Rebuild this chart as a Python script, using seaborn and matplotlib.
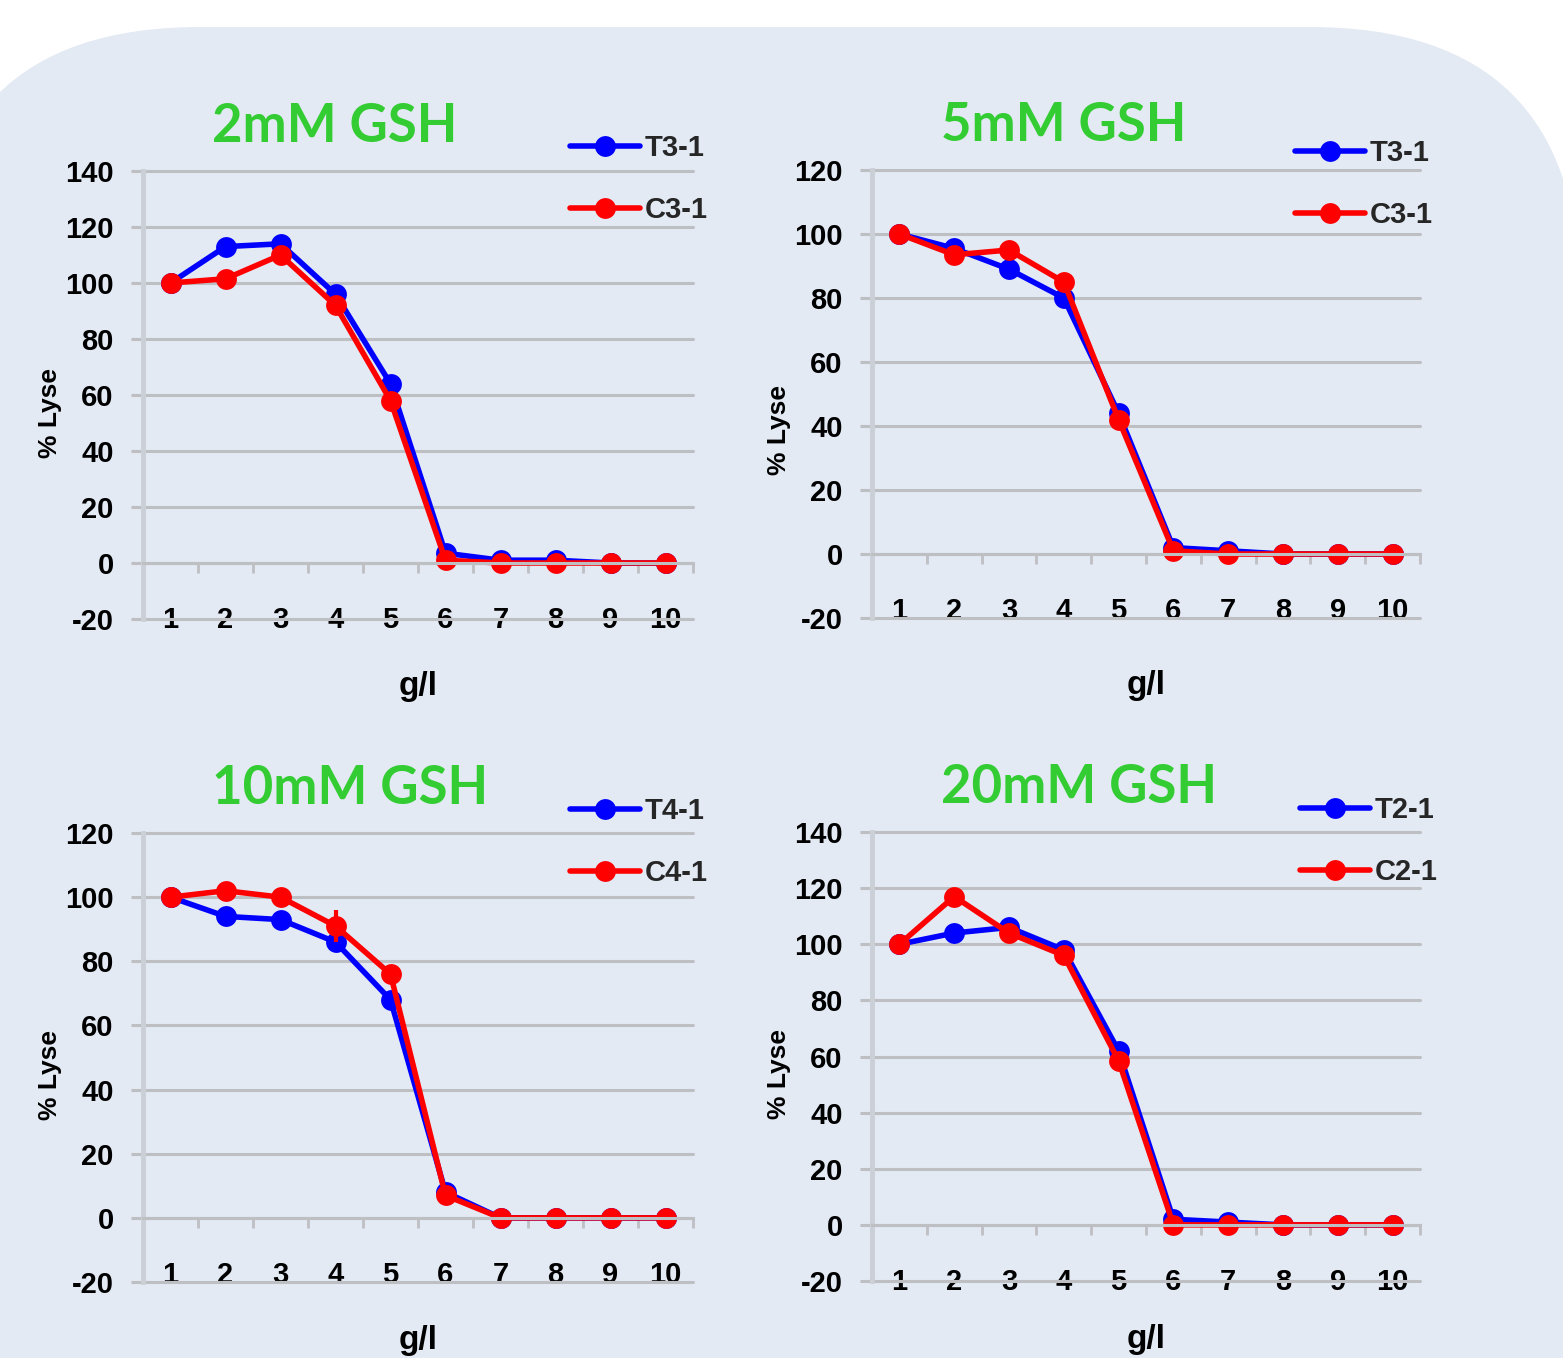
import numpy as np
import pandas as pd
import matplotlib
matplotlib.use("Agg")
import matplotlib.pyplot as plt
import seaborn as sns
from matplotlib.patches import FancyBboxPatch

# Données (% de lyse selon la concentration g/l)
conc = [1, 2, 3, 4, 5, 6, 7, 8, 9, 10]

titres = ["2mM GSH", "5mM GSH", "10mM GSH", "20mM GSH"]
noms_t = ["T3-1", "T3-1", "T4-1", "T2-1"]
noms_c = ["C3-1", "C3-1", "C4-1", "C2-1"]
y_max = [140, 120, 120, 140]

t_2mm = [100, 113, 114, 96, 64, 3.5, 1, 1, 0, 0]
c_2mm = [100, 101.5, 110, 92, 58, 1, 0, 0, 0, 0]

t_5mm = [100, 95.5, 89, 80, 44, 2, 1, 0, 0, 0]
c_5mm = [100, 93.5, 95, 85, 42, 1, 0, 0, 0, 0]

t_10mm = [100, 94, 93, 86, 68, 8, 0, 0, 0, 0]
c_10mm = [100, 102, 100, 91, 76, 7, 0, 0, 0, 0]
c_10mm_err = [0, 0, 0, 5, 0, 0, 0, 0, 0, 0]

t_20mm = [100, 104, 106, 98, 62, 2, 1, 0, 0, 0]
c_20mm = [100, 117, 104, 96, 58.5, 0, 0, 0, 0, 0]

series_t = [t_2mm, t_5mm, t_10mm, t_20mm]
series_c = [c_2mm, c_5mm, c_10mm, c_20mm]

# Style
sns.set_theme(style="white")
plt.rcParams["font.family"] = ["Liberation Sans", "DejaVu Sans"]
plt.rcParams["font.weight"] = "bold"
plt.rcParams["axes.unicode_minus"] = False

W, H = 1563, 1358
fig = plt.figure(figsize=(W / 100, H / 100), dpi=100, facecolor="white")

# fond arrondi bleu clair
bg = fig.add_axes([0, 0, 1, 1])
bg.set_xlim(0, W)
bg.set_ylim(H, 0)
bg.axis("off")
bg.add_patch(FancyBboxPatch((-70, 27), 1650, 1500,
                            boxstyle="round,pad=0,rounding_size=270",
                            facecolor="#E3EAF4", edgecolor="none"))

gris = "#BDBFC3"
gris_axe = "#CBD0D7"

# positions des panneaux en pixels (gauche, haut, droite, bas)
cadres = [(143, 171, 693, 619), (872, 170, 1420, 618),
          (143, 833, 693, 1282), (872, 832, 1420, 1281)]
ylab_y = [0.46, 0.42, 0.46, 0.46]
xlab_y = [-0.115, -0.115, -0.095, -0.095]
leg_pos = [(0.776, 0.982), (0.772, 0.969), (0.776, 0.98), (0.781, 0.98)]

for i in range(4):
    l, t, r, b = cadres[i]
    ax = fig.add_axes([l / W, 1 - b / H, (r - l) / W, (b - t) / H])
    ax.set_facecolor("none")

    df = pd.DataFrame({
        "g/l": conc + conc,
        "lyse": series_t[i] + series_c[i],
        "serie": [noms_t[i]] * 10 + [noms_c[i]] * 10,
    })
    pal = {noms_t[i]: "#0000FF", noms_c[i]: "#FF0000"}

    sns.lineplot(data=df, x="g/l", y="lyse", hue="serie", palette=pal,
                 marker="o", markersize=15, markeredgewidth=0,
                 linewidth=4, ax=ax)

    if i == 2:
        ax.errorbar(conc, c_10mm, yerr=c_10mm_err, fmt="none",
                    ecolor="#FF0000", elinewidth=3, capsize=0)

    ax.set_xlim(0.5, 10.5)
    ax.set_ylim(-20, y_max[i])
    ax.set_yticks(np.arange(-20, y_max[i] + 1, 20))
    ax.set_xticks(conc)
    ax.set_xticks([c + 0.5 for c in conc], minor=True)

    ax.grid(axis="y", color=gris, linewidth=2.2)
    ax.grid(axis="x", visible=False)
    for g in ax.get_ygridlines():
        g.set_clip_on(False)

    for s in ["top", "right"]:
        ax.spines[s].set_visible(False)
    ax.spines["left"].set_color(gris_axe)
    ax.spines["left"].set_linewidth(3.5)
    ax.spines["bottom"].set_position(("data", 0))
    ax.spines["bottom"].set_color(gris)
    ax.spines["bottom"].set_linewidth(2.2)

    ax.tick_params(axis="y", left=True, length=9, width=2.2, color=gris,
                   labelsize=21, labelcolor="black", pad=12)
    ax.tick_params(axis="x", which="major", bottom=True, length=0,
                   labelsize=21, labelcolor="black", pad=31)
    ax.tick_params(axis="x", which="minor", bottom=True, length=7,
                   width=2, color=gris, direction="out")

    ax.set_xlabel("g/l", fontsize=24, fontweight="bold", color="black")
    ax.xaxis.set_label_coords(0.5, xlab_y[i])
    ax.set_ylabel("% Lyse", fontsize=19, fontweight="bold", color="black")
    ax.yaxis.set_label_coords(-0.147, ylab_y[i])

    ax.text(0.125, 1.10, titres[i], transform=ax.transAxes, ha="left",
            va="center", color="#33CC33", fontsize=38, fontweight="bold",
            family=["Lato", "DejaVu Sans"])

    handles, labels = ax.get_legend_handles_labels()
    ax.legend(handles, labels, loc="center left",
              bbox_to_anchor=leg_pos[i], frameon=False, fontsize=21,
              borderpad=0, borderaxespad=0, handlelength=2.4,
              handletextpad=0.17, labelspacing=1.17)

fig.savefig("out.png", dpi=100, facecolor="white")
